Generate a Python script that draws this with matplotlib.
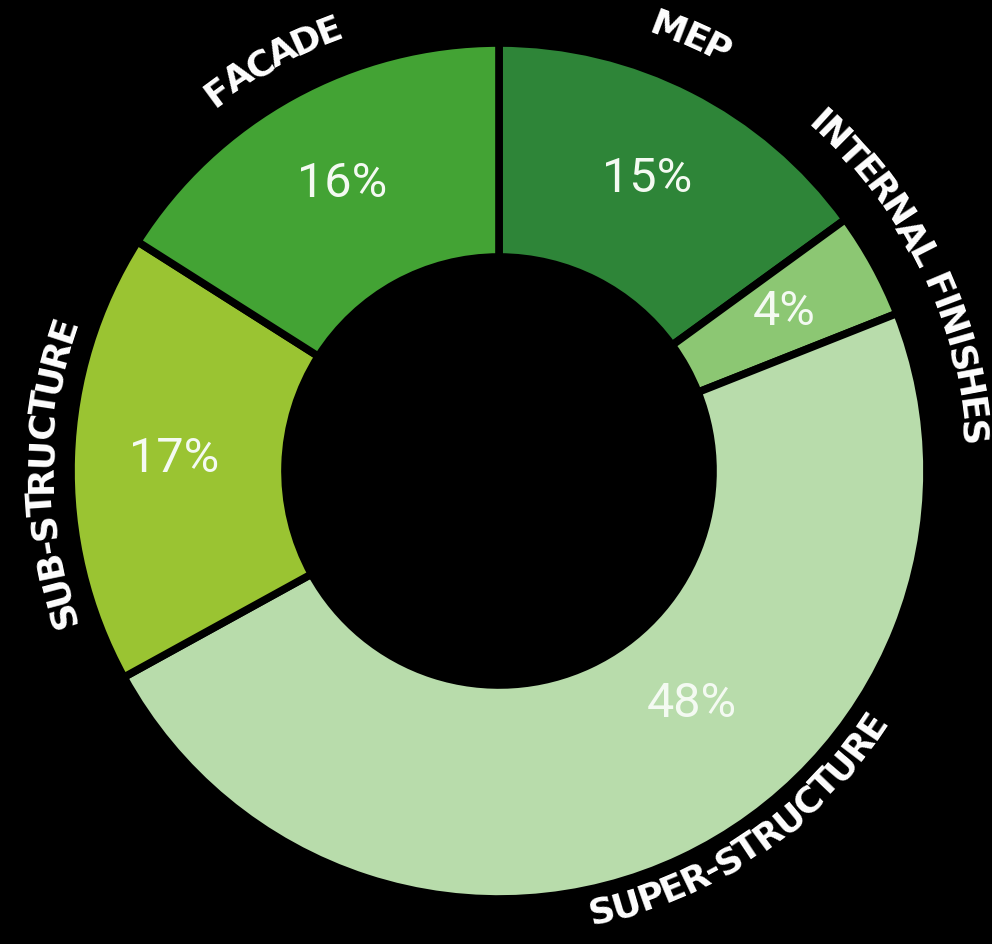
import matplotlib
matplotlib.use("Agg")
import matplotlib.pyplot as plt
import numpy as np

# cost split, clockwise from 12 o'clock
categories = ["MEP", "INTERNAL FINISHES", "SUPER-STRUCTURE", "SUB-STRUCTURE", "FACADE"]
shares = [15, 4, 48, 17, 16]
pct_labels = ["15%", "4%", "48%", "17%", "16%"]
colors = ["#2e8538", "#8cc773", "#b8dcab", "#9ac432", "#43a334"]

W, H = 992, 945
fig = plt.figure(figsize=(W / 100, H / 100), dpi=100, facecolor="black")
ax = fig.add_axes([0, 0, 1, 1])
ax.set_facecolor("black")

cx, cy = 499, H - 472   # pixel coords, y up
R = 428

wedges, _ = ax.pie(shares, colors=colors, startangle=90, counterclock=False,
                   radius=R, center=(cx, cy),
                   wedgeprops=dict(width=R * 0.5, edgecolor="black", linewidth=5.5))
ax.set_xlim(0, W)
ax.set_ylim(0, H)
ax.set_aspect("equal")
ax.axis("off")

# percentage labels inside the ring
pct_font = dict(family=["Roboto", "DejaVu Sans"], weight="normal", size=35, color="#f4faf2")
for i, w in enumerate(wedges):
    mid = np.deg2rad((w.theta1 + w.theta2) / 2)
    r = 0.76 * R
    if categories[i] == "SUPER-STRUCTURE":
        # moved up towards the right, like the original
        mid = np.deg2rad(-50.6)
        r = 0.71 * R
    ax.text(cx + r * np.cos(mid), cy + r * np.sin(mid) + 3, pct_labels[i],
            ha="center", va="center", **pct_font)

renderer = fig.canvas.get_renderer()
lab_font = dict(family="DejaVu Sans", weight="bold", size=26, color="white")


def char_width(ch):
    if ch == " ":
        ch = "-"
    t = ax.text(0, 0, ch, **lab_font)
    bb = t.get_window_extent(renderer)
    t.remove()
    return bb.width


def curved_text(text, mid_deg, radius, clockwise=True, tracking=-2.0):
    widths = [char_width(c) for c in text]
    total = sum(widths) + tracking * (len(text) - 1)
    span = total / radius
    mid = np.deg2rad(mid_deg)
    pos = 0.0
    for c, wd in zip(text, widths):
        off = (pos + wd / 2) / radius
        if clockwise:
            a = mid + span / 2 - off
            rot = np.rad2deg(a) - 90
        else:
            a = mid - span / 2 + off
            rot = np.rad2deg(a) + 90
        pos += wd + tracking
        if c == " ":
            continue
        ax.text(cx + radius * np.cos(a), cy + radius * np.sin(a), c,
                rotation=rot, rotation_mode="anchor", ha="center", va="center", **lab_font)


curved_text("FACADE", 118.7, 472)
curved_text("MEP", 66.2, 474)
curved_text("INTERNAL FINISHES", 25.8, 474)
curved_text("SUB-STRUCTURE", 180.0, 458)
curved_text("SUPER-STRUCTURE", -55.5, 452, clockwise=False)

fig.savefig("out.png", dpi=100, facecolor="black")
